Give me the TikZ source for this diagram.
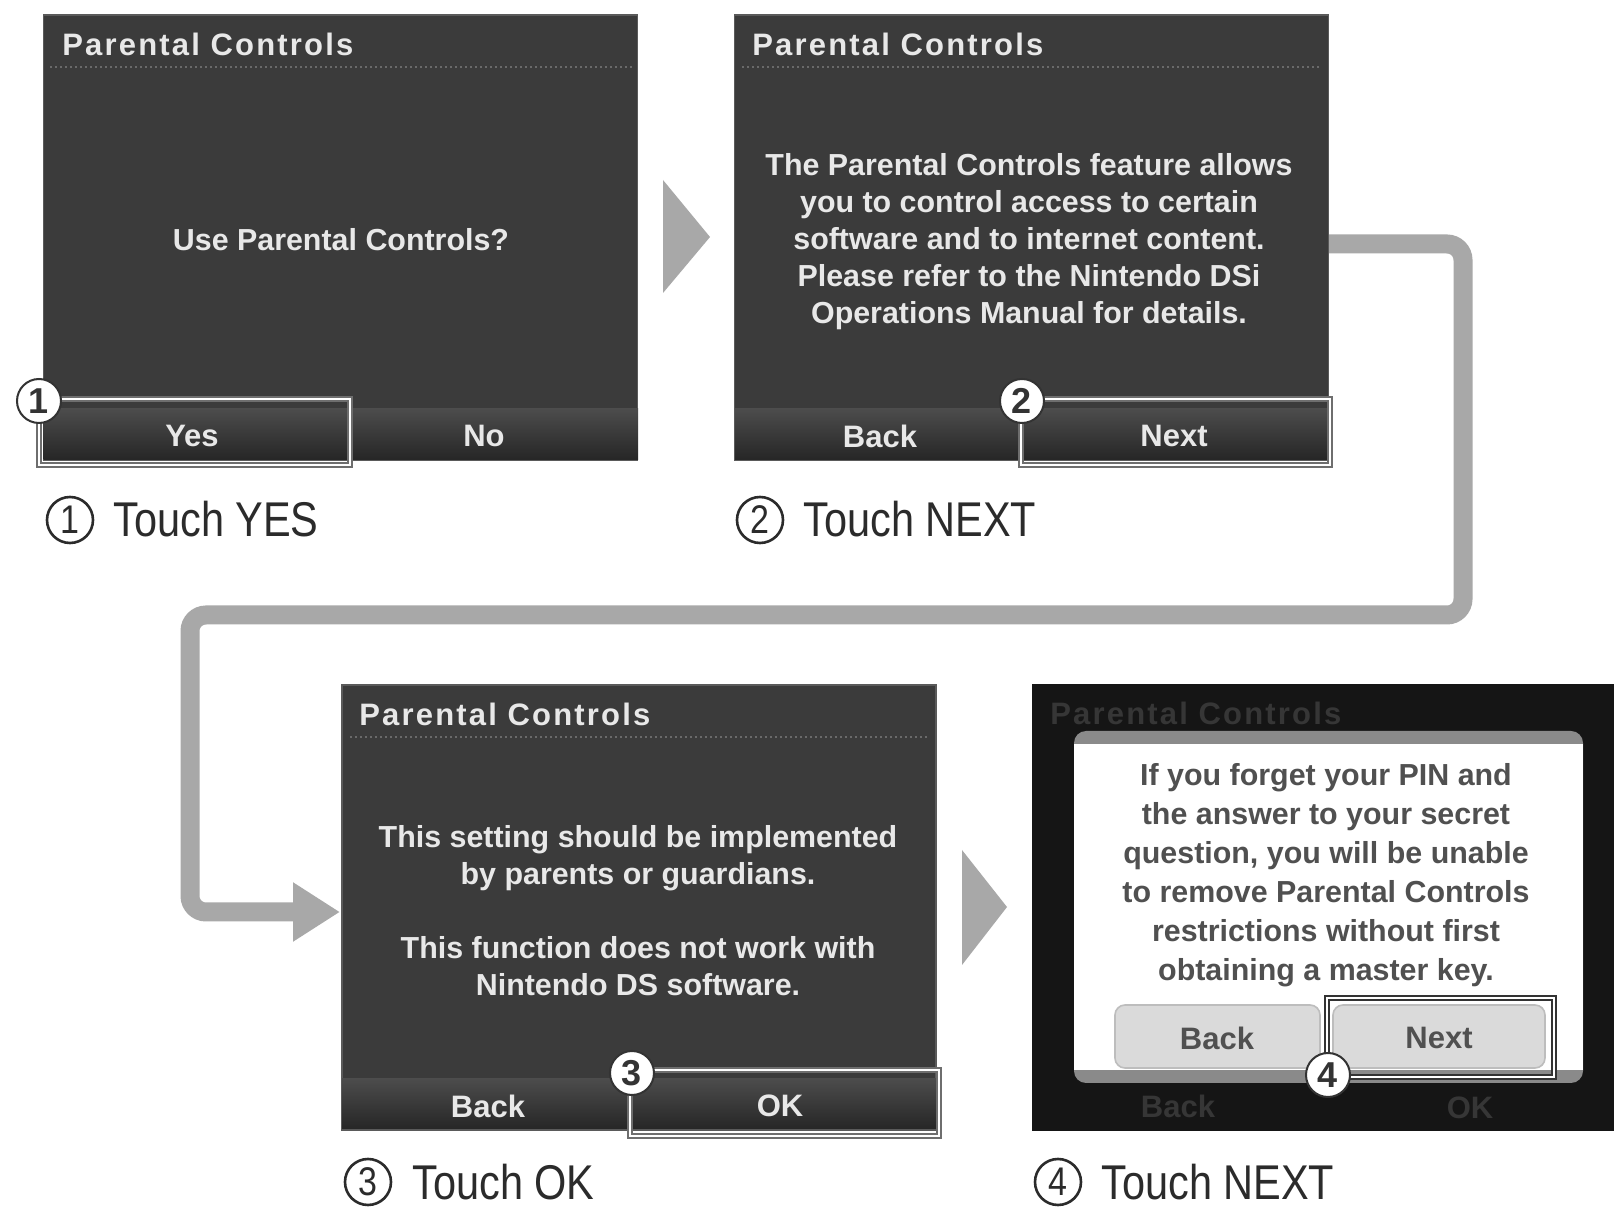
\documentclass[tikz,border=0pt]{standalone}
\usepackage{fontspec}
\setmainfont{Liberation Sans}
\newfontfamily\scr{Liberation Sans}
\newfontfamily\scrtitle[LetterSpace=7]{Liberation Sans}
\newfontfamily\capfont[FakeStretch=0.85]{Liberation Sans}
\usetikzlibrary{arrows.meta}
\definecolor{scrbg}{HTML}{3B3B3B}
\definecolor{panelline}{HTML}{5A5A5A}
\definecolor{scrfg}{HTML}{E8E8E8}
\definecolor{btntop}{HTML}{4C4C4C}
\definecolor{btnbot}{HTML}{262626}
\definecolor{hlgray}{HTML}{6E6E6E}
\definecolor{markline}{HTML}{333333}
\definecolor{capink}{HTML}{2B2B2B}
\definecolor{flowgray}{HTML}{A8A8A8}
\definecolor{dotgray}{HTML}{6A6A6A}
\definecolor{blackbg}{HTML}{151515}
\definecolor{dimtext}{HTML}{363636}
\definecolor{dlgtext}{HTML}{505050}
\definecolor{dlgstrip}{HTML}{8A8A8A}
\definecolor{btnlight}{HTML}{DADADA}
\definecolor{btnedge}{HTML}{BDBDBD}
\begin{document}
\begin{tikzpicture}[x=0.5pt,y=-0.5pt,
 panel/.style={draw=panelline, fill=scrbg, line width=0.6pt, inner sep=0pt, minimum width=297pt, minimum height=222.5pt},
 scrtext/.style={text=scrfg, font=\scr\bfseries\fontsize{15.2}{18.5}\selectfont, align=center, inner sep=0pt},
 dlgtextstyle/.style={text=dlgtext, font=\scr\bfseries\fontsize{15.2}{19.5}\selectfont, align=center, inner sep=0pt},
 titletext/.style={text=scrfg, font=\scrtitle\bfseries\fontsize{15.5}{18}\selectfont, anchor=west, inner sep=0pt},
 btntext/.style={text=scrfg, font=\scr\bfseries\fontsize{15.5}{18}\selectfont, inner sep=0pt},
 hilite/.style={draw=hlgray, line width=0.8pt, double=white, double distance=1.4pt},
 marker/.style={circle, draw=markline, fill=white, line width=1pt, minimum size=22pt, inner sep=0pt, text=markline, font=\scr\bfseries\fontsize{18}{18}\selectfont},
 capcirc/.style={circle, draw=capink, line width=1.3pt, minimum size=23pt, inner sep=0pt, text=capink, font=\capfont\fontsize{20}{20}\selectfont},
 captext/.style={text=capink, font=\capfont\fontsize{24.4}{28}\selectfont, anchor=base west, inner sep=0pt},
 flow/.style={draw=flowgray, line width=9.5pt, rounded corners=8pt},
 chev/.style={fill=flowgray},
 dots/.style={draw=dotgray, line width=0.6pt, dash pattern=on 1pt off 1.5pt},
 btnrow/.style={top color=btntop, bottom color=btnbot},
 sep/.style={draw=black!80, line width=0.6pt},
 dlgbtn/.style={draw=btnedge, fill=btnlight, line width=0.8pt, rounded corners=5pt},
]
\useasboundingbox[fill=white] (0,0) rectangle (1614,1213);

% ---------- Panel 1 ----------
\node[panel] (p1) at (340.5,237.5) {};
\node[titletext] (t1) at (62,44) {Parental Controls};
\draw[dots] (50,67) -- (632,67);
\node[scrtext] (b1) at (341,240) {Use Parental Controls?};
\shade[btnrow] (43.5,409) rectangle (638,460);
\draw[sep] (350,409) -- (350,460);
\node[btntext] (yes) at (192,436) {Yes};
\node[btntext] (no) at (484,436) {No};
\draw[hilite] (39,399) rectangle (350,465);
\node[marker] (m1) at (39,401) {1};
\node[capcirc] (c1) at (70,520) {1};
\node[captext] (k1) at (113,537) {Touch YES};

% ---------- Chevron 1 ----------
\fill[chev] (663,180) -- (710,237) -- (663,293) -- cycle;

% ---------- Panel 2 ----------
\node[panel] (p2) at (1031.5,237.5) {};
\node[titletext] (t2) at (752,44) {Parental Controls};
\draw[dots] (742,67) -- (1322,67);
\node[scrtext] (b2) at (1029,242) {The Parental Controls feature allows\\you to control access to certain\\software and to internet content.\\Please refer to the Nintendo DSi\\Operations Manual for details.};
\shade[btnrow] (735,409) rectangle (1328,460);
\draw[sep] (1021,409) -- (1021,460);
\node[btntext] (back2) at (880,436) {Back};
\node[btntext] (next2) at (1174,436) {Next};
\draw[hilite] (1021,399) rectangle (1330,465);
\node[marker] (m2) at (1022,401) {2};
\node[capcirc] (c2) at (760,520) {2};
\node[captext] (k2) at (803,537) {Touch NEXT};

% ---------- Panel 3 ----------
\node[panel] (p3) at (639,907.5) {};
\node[titletext] (t3) at (359,714) {Parental Controls};
\draw[dots] (350,737) -- (930,737);
\node[scrtext] (b3) at (638,911) {This setting should be implemented\\by parents or guardians.\\[18.5pt]This function does not work with\\Nintendo DS software.};
\shade[btnrow] (342,1079) rectangle (936,1129);
\draw[sep] (630,1079) -- (630,1129);
\node[btntext] (back3) at (488,1106) {Back};
\node[btntext] (ok3) at (780,1106) {OK};
\draw[hilite] (630,1070) rectangle (939,1136);
\node[marker] (m3) at (632,1073) {3};
\node[capcirc] (c3) at (368,1182) {3};
\node[captext] (k3) at (412,1199) {Touch OK};

% ---------- connector from panel 2 to panel 3 ----------
\coordinate (tip) at (340,912);
\draw[flow, -{Triangle[length=23.5pt, width=28pt]}] ([yshift=-3.25pt]p2.east) -| (1463,615) -| (190,912) -- (tip);

% ---------- Chevron 2 ----------
\fill[chev] (962,850) -- (1007,907) -- (962,965) -- cycle;

% ---------- Panel 4 ----------
\node[panel, fill=blackbg, draw=blackbg, minimum width=290.5pt] (p4) at (1323.5,907.5) {};
\node[titletext, text=dimtext] (t4) at (1050,713) {Parental Controls};
\node[btntext, text=dimtext] (back4d) at (1178,1106) {Back};
\node[btntext, text=dimtext] (ok4d) at (1470,1108) {OK};
\fill[dlgstrip, rounded corners=6pt] (1074,731) rectangle (1583,1083);
\fill[white] (1074,744) rectangle (1583,1070);
\node[dlgtextstyle] (b4) at (1326,875.5) {If you forget your PIN and\\the answer to your secret\\question, you will be unable\\to remove Parental Controls\\restrictions without first\\obtaining a master key.};
\draw[dlgbtn] (1115,1005) rectangle (1320,1068);
\draw[dlgbtn] (1333,1005) rectangle (1545,1068);
\node[btntext, text=dlgtext] (back4) at (1217,1038) {Back};
\node[btntext, text=dlgtext] (next4) at (1439,1038) {Next};
\draw[hilite, draw=markline] (1327,998) rectangle (1554,1077);
\node[marker] (m4) at (1328,1075) {4};
\node[capcirc] (c4) at (1058,1182) {4};
\node[captext] (k4) at (1101,1199) {Touch NEXT};
\end{tikzpicture}
\end{document}
